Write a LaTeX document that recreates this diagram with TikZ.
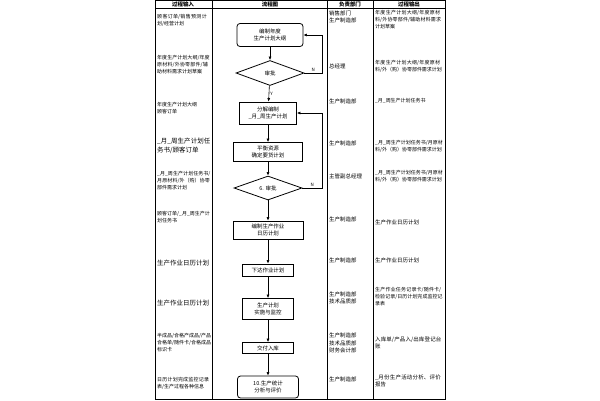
\documentclass[tikz,border=0pt]{standalone}
\usepackage{fontspec}
\setmainfont{Noto Sans CJK SC}
\XeTeXlinebreaklocale "zh"
\XeTeXlinebreakskip=0pt plus 1pt
\usetikzlibrary{shapes.geometric,arrows.meta}
\begin{document}
\begin{tikzpicture}[x=1bp,y=-1bp,
 line/.style={line width=0.6pt},
 box/.style={draw,line width=0.8pt,align=center,font=\fontsize{5.5}{7}\selectfont,inner sep=0pt},
 rbox/.style={box,rounded corners=3pt},
 dia/.style={draw,diamond,aspect=2.7,line width=0.8pt,font=\fontsize{5.5}{7}\selectfont,inner sep=1pt},
 cell/.style={anchor=west,align=left,font=\fontsize{5}{7}\selectfont,inner sep=0pt},
 big/.style={cell,font=\fontsize{6.5}{9}\selectfont},
 hd/.style={font=\bfseries\fontsize{5.5}{7}\selectfont,inner sep=0pt},
 arr/.style={line width=0.6pt,-{Latex[length=3.5pt,width=3pt]}}]
\useasboundingbox (0,0) rectangle (600,400);
% table
\draw[line width=0.8pt] (155,0) rectangle (445,399);
\draw[line] (155,8) -- (445,8);
\foreach \x in {212,327,373} \draw[line] (\x,0) -- (\x,399);
\node[hd] (h1) at (183,4) {过程输入};
\node[hd] (h2) at (270,4) {流程图};
\node[hd] (h3) at (350,4) {负责部门};
\node[hd] (h4) at (409,4) {过程输出};
% input column
\node[cell,text width=53bp] (i1) at (157,20) {顾客订单/销售预测计划/经营计划};
\node[cell,text width=53bp] (i2) at (157,65) {年度生产计划大纲/年度原材料/外协零部件/辅助材料需求计划草案};
\node[cell,text width=53bp] (i3) at (157,108) {年度生产计划大纲\\顾客订单};
\node[big,text width=54bp] (i4) at (157,146) {\_月\_周生产计划任务书/顾客订单};
\node[cell,text width=54bp] (i5) at (157,181) {\_月\_周生产计划任务书/月原材料/外（购）协零部件需求计划};
\node[cell,text width=53bp] (i6) at (157,217) {顾客订单/\_月\_周生产计划任务书};
\node[big,text width=54bp] (i7) at (157,263) {生产作业日历计划};
\node[big,text width=54bp] (i8) at (157,303) {生产作业日历计划};
\node[cell,text width=54bp] (i9) at (157,343) {半成品/合格产成品/产品合格单/随件卡/合格成品标识卡};
\node[cell,text width=54bp] (i10) at (157,383) {日历计划完成监控记录表/生产过程各种信息};
% dept column
\node[cell,font=\fontsize{5.5}{7.5}\selectfont] (d1) at (329,17) {销售部门\\生产制造部};
\node[cell,font=\fontsize{5.5}{7.5}\selectfont] (d2) at (329,66) {总经理};
\node[cell,font=\fontsize{5.5}{7.5}\selectfont] (d3) at (329,101) {生产制造部};
\node[cell,font=\fontsize{5.5}{7.5}\selectfont] (d4) at (329,143) {生产制造部};
\node[cell,font=\fontsize{5.5}{7.5}\selectfont] (d5) at (329,176) {主管副总经理};
\node[cell,font=\fontsize{5.5}{7.5}\selectfont] (d6) at (329,219) {生产制造部};
\node[cell,font=\fontsize{5.5}{7.5}\selectfont] (d7) at (329,260) {生产制造部};
\node[cell,font=\fontsize{5.5}{7.5}\selectfont] (d8) at (329,298) {生产制造部\\技术品质部};
\node[cell,font=\fontsize{5.5}{7.5}\selectfont] (d9) at (329,343) {生产制造部\\技术品质部\\财务会计部};
\node[cell,font=\fontsize{5.5}{7.5}\selectfont] (d10) at (329,379) {生产制造部};
% output column
\node[cell,text width=68bp] (o1) at (375,20) {年度生产计划大纲/年度原材料/外协零部件/辅助材料需求计划草案};
\node[cell,text width=68bp] (o2) at (375,66) {年度生产计划大纲/年度原材料/外（购）协零部件需求计划};
\node[cell,text width=68bp] (o3) at (375,101) {\_月\_周生产计划任务书};
\node[cell,text width=68bp] (o4) at (375,146) {\_月\_周生产计划任务书/月原材料/外（购）协零部件需求计划};
\node[cell,text width=68bp] (o5) at (375,176) {\_月\_周生产计划任务书/月原材料/外（购）协零部件需求计划};
\node[cell,font=\fontsize{5.5}{7.5}\selectfont] (o6) at (375,222) {生产作业日历计划};
\node[cell,font=\fontsize{5.5}{7.5}\selectfont] (o7) at (375,260) {生产作业日历计划};
\node[cell,text width=68bp] (o8) at (375,297) {生产作业任务记录卡/随件卡/检验记录/日历计划完成监控记录表};
\node[cell,text width=68bp,font=\fontsize{5.5}{7.5}\selectfont] (o9) at (375,343) {入库单/产品入/出库登记台账};
\node[cell,text width=68bp,font=\fontsize{5.5}{7.5}\selectfont] (o10) at (375,381) {\_月份生产活动分析、评价报告};
% flow
\node[rbox,minimum width=66bp,minimum height=23bp] (b1) at (270,35) {编制年度\\生产计划大纲};
\node[dia,minimum width=68bp,minimum height=25bp] (q1) at (270,73) {审批};
\node[box,minimum width=57bp,minimum height=22bp] (b2) at (268,113) {分解编制\\\_月\_周生产计划};
\node[box,minimum width=69bp,minimum height=19bp] (b3) at (268,152) {平衡资源\\确定要货计划};
\node[dia,minimum width=68bp,minimum height=24bp] (q2) at (268,188) {6. 审批};
\node[box,minimum width=70bp,minimum height=18bp] (b4) at (268,230) {编制生产作业\\日历计划};
\node[box,minimum width=51bp,minimum height=12bp] (b5) at (268,270) {下达作业计划};
\node[box,minimum width=51bp,minimum height=21bp] (b6) at (268,309) {生产计划\\实施与监控};
\node[box,minimum width=51bp,minimum height=11bp] (b7) at (268,348) {交付入库};
\node[rbox,minimum width=61bp,minimum height=22bp] (b8) at (268,387) {10.生产统计\\分析与评价};
\coordinate (c1) at (322,73);
\coordinate (c2) at (322,188);
\draw[arr] (b1) -- (q1);
\draw[arr] (q1) -- node[right,pos=0.5,font=\fontsize{4.5}{5}\selectfont,inner sep=1pt]{Y} (b2);
\draw[arr] (b2) -- (b3);
\draw[arr] (b3) -- (q2);
\draw[arr] (q2) -- (b4);
\draw[arr] (b4) -- (b5);
\draw[arr] (b5) -- (b6);
\draw[arr] (b6) -- (b7);
\draw[arr] (b7) -- (b8);
\draw[arr] (q1.east) -- (c1) node[pos=0.5,above,font=\fontsize{4.5}{5}\selectfont,inner sep=1pt]{N} |- (b1.east);
\draw[arr] (q2.east) -- (c2) node[pos=0.5,above,font=\fontsize{4.5}{5}\selectfont,inner sep=1pt]{N} |- (b2.east);
\end{tikzpicture}
\end{document}
